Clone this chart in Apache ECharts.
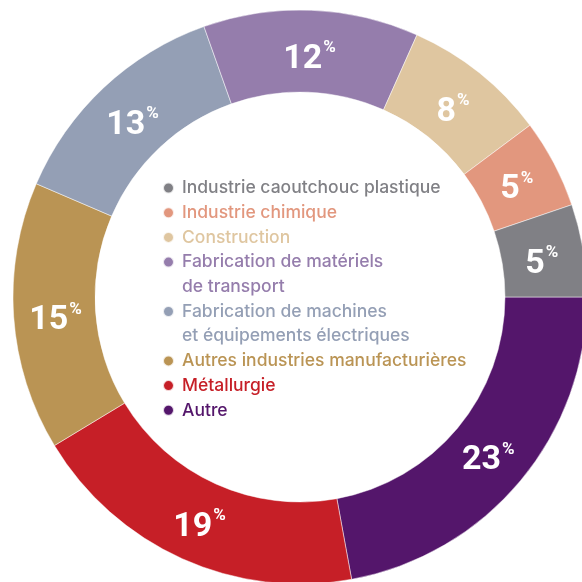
<!DOCTYPE html>
<html>
<head>
<meta charset="utf-8">
<script src="https://cdn.jsdelivr.net/npm/echarts@6/dist/echarts.min.js"></script>
<style>
html,body{margin:0;padding:0;background:#fff;}
#chart{width:582px;height:582px;}
</style>
</head>
<body>
<div id="chart"></div>
<script>
// Categories in drawing order (clockwise from 3 o'clock)
const categories = [
  "Autre",
  "Métallurgie",
  "Autres industries manufacturières",
  "Fabrication de machines\net équipements électriques",
  "Fabrication de matériels\nde transport",
  "Construction",
  "Industrie chimique",
  "Industrie caoutchouc plastique"
];
const shares = [22.1, 19.2, 15.1, 13.1, 12.1, 8.1, 5.0, 5.2];
// Percentages printed on the slices
const printedPct = [23, 19, 15, 13, 12, 8, 5, 5];
const colors = ["#54166B", "#C61F27", "#BA9454", "#949FB5", "#957DAC", "#DFC6A0", "#E2977E", "#808085"];
// Legend order (top to bottom)
const legendOrder = [
  "Industrie caoutchouc plastique",
  "Industrie chimique",
  "Construction",
  "Fabrication de matériels\nde transport",
  "Fabrication de machines\net équipements électriques",
  "Autres industries manufacturières",
  "Métallurgie",
  "Autre"
];

const LEGEND_FONT = "Inter, 'Open Sans', sans-serif";
const LABEL_FONT = "Roboto, 'Noto Sans', sans-serif";
const PIE_CENTER = [300, 297];
const L = 24.7;          // legend line height
const firstY = 188;      // center of first legend line
const legendLeft = 160;
const DOT = 11, ICON_W = 15;

function dotIcon(h) {
  // circle at the top of an icon box ICON_W x h (so it sits on the first text line)
  const r = DOT / 2, cx = ICON_W / 2;
  return "path://M0,0M" + ICON_W + "," + h +
    "M" + (cx - r) + "," + r + "A" + r + "," + r + ",0,1,1," + (cx + r) + "," + r +
    "A" + r + "," + r + ",0,1,1," + (cx - r) + "," + r + "Z";
}

const legends = [];
let slot = 0;
legendOrder.forEach(function (name) {
  const n = name.split("\n").length;
  const y0 = firstY + slot * L;
  const h = DOT + (n - 1) * L;
  const color = colors[categories.indexOf(name)];
  legends.push({
    data: [{name: name, icon: dotIcon(h)}],
    orient: "vertical",
    left: legendLeft,
    top: y0 - L / 2,
    padding: 0,
    itemWidth: ICON_W,
    itemHeight: h,
    selectedMode: false,
    textStyle: {
      color: color,
      fontFamily: LEGEND_FONT,
      fontSize: 17.5,
      fontWeight: 500,
      lineHeight: L,
      padding: [0, 0, 0, 1],
      backgroundColor: "rgba(0,0,0,0)"
    }
  });
  slot += n;
});

const chart = echarts.init(document.getElementById("chart"), null, {renderer: "canvas"});
chart.setOption({
  animation: false,
  color: colors,
  legend: legends,
  series: [{
    type: "pie",
    center: PIE_CENTER,
    radius: [205, 287],
    startAngle: 0,
    clockwise: true,
    avoidLabelOverlap: false,
    emphasis: {disabled: true},
    itemStyle: {borderColor: "rgba(255,255,255,0.8)", borderWidth: 0.6},
    label: {
      show: true,
      position: "inside",
      formatter: function (p) { return "{n|" + printedPct[p.dataIndex] + "}{p|%}"; },
      rich: {
        n: {fontFamily: LABEL_FONT, fontSize: 34, fontWeight: "bold", color: "#fff", lineHeight: 34, padding: [6, 0, 0, 0]},
        p: {fontFamily: LABEL_FONT, fontSize: 17, fontWeight: "bold", color: "#fff", verticalAlign: "top", lineHeight: 20, padding: [0, 0, 0, 1]}
      }
    },
    labelLayout: function (params) {
      const r = params.labelRect;
      const cx = r.x + r.width / 2, cy = r.y + r.height / 2;
      const a = Math.atan2(cy - PIE_CENTER[1], cx - PIE_CENTER[0]);
      return {dx: -4 * Math.cos(a), dy: -4 * Math.sin(a) + 4};
    },
    labelLine: {show: false},
    data: categories.map(function (c, i) { return {name: c, value: shares[i]}; })
  }]
});
</script>
</body>
</html>
